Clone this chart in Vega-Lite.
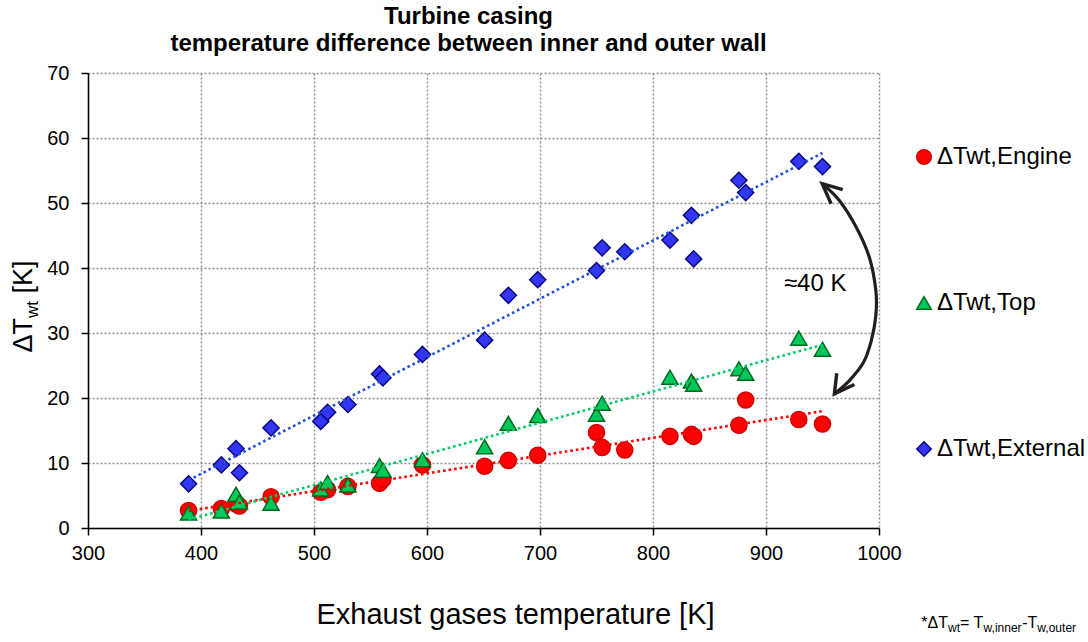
{
  "$schema": "https://vega.github.io/schema/vega-lite/v6.json",
  "width": 791,
  "height": 455,
  "autosize": {"type": "none"},
  "padding": {"left": 88, "top": 73, "right": 209, "bottom": 114},
  "background": "white",
  "config": {
    "view": {"stroke": null},
    "font": "Liberation Sans",
    "axis": {
      "grid": true,
      "gridColor": "#8f8f8f",
      "gridDash": [2, 2],
      "gridWidth": 1.5,
      "domainColor": "#000000",
      "domainWidth": 1.5,
      "tickColor": "#000000",
      "tickWidth": 1.5,
      "tickSize": 7,
      "labelFont": "Liberation Sans",
      "labelFontSize": 20,
      "labelColor": "#000000",
      "labelFlush": false,
      "labelOverlap": false,
      "titleFont": "Liberation Sans",
      "titleColor": "#000000",
      "titleFontWeight": "normal"
    }
  },
  "title": {
    "text": ["Turbine casing", "temperature difference between inner and outer wall"],
    "font": "Liberation Sans",
    "fontSize": 24,
    "fontWeight": "bold",
    "color": "#000000",
    "lineHeight": 27,
    "anchor": "middle",
    "frame": "group",
    "dx": -15,
    "offset": 7
  },
  "data": {
    "values": [
      {"T": 389, "series": "ΔTwt,Engine", "dT": 2.7},
      {"T": 418, "series": "ΔTwt,Engine", "dT": 3.0},
      {"T": 431, "series": "ΔTwt,Engine", "dT": 3.7},
      {"T": 434, "series": "ΔTwt,Engine", "dT": 3.4},
      {"T": 462, "series": "ΔTwt,Engine", "dT": 4.8},
      {"T": 506, "series": "ΔTwt,Engine", "dT": 5.5},
      {"T": 512, "series": "ΔTwt,Engine", "dT": 5.9},
      {"T": 530, "series": "ΔTwt,Engine", "dT": 6.4},
      {"T": 558, "series": "ΔTwt,Engine", "dT": 6.9},
      {"T": 561, "series": "ΔTwt,Engine", "dT": 7.5},
      {"T": 596, "series": "ΔTwt,Engine", "dT": 9.7},
      {"T": 651, "series": "ΔTwt,Engine", "dT": 9.5},
      {"T": 672, "series": "ΔTwt,Engine", "dT": 10.4},
      {"T": 698, "series": "ΔTwt,Engine", "dT": 11.2},
      {"T": 750, "series": "ΔTwt,Engine", "dT": 14.7},
      {"T": 755, "series": "ΔTwt,Engine", "dT": 12.4},
      {"T": 775, "series": "ΔTwt,Engine", "dT": 12.0},
      {"T": 815, "series": "ΔTwt,Engine", "dT": 14.1},
      {"T": 834, "series": "ΔTwt,Engine", "dT": 14.4},
      {"T": 836, "series": "ΔTwt,Engine", "dT": 14.1},
      {"T": 876, "series": "ΔTwt,Engine", "dT": 15.8},
      {"T": 882, "series": "ΔTwt,Engine", "dT": 19.7},
      {"T": 929, "series": "ΔTwt,Engine", "dT": 16.7},
      {"T": 950, "series": "ΔTwt,Engine", "dT": 16.0},
      {"T": 389, "series": "ΔTwt,Top", "dT": 2.3},
      {"T": 418, "series": "ΔTwt,Top", "dT": 2.6},
      {"T": 431, "series": "ΔTwt,Top", "dT": 5.2},
      {"T": 434, "series": "ΔTwt,Top", "dT": 4.0},
      {"T": 462, "series": "ΔTwt,Top", "dT": 3.8},
      {"T": 506, "series": "ΔTwt,Top", "dT": 6.0},
      {"T": 512, "series": "ΔTwt,Top", "dT": 7.0},
      {"T": 530, "series": "ΔTwt,Top", "dT": 6.6},
      {"T": 558, "series": "ΔTwt,Top", "dT": 9.6},
      {"T": 561, "series": "ΔTwt,Top", "dT": 8.9},
      {"T": 596, "series": "ΔTwt,Top", "dT": 10.5},
      {"T": 651, "series": "ΔTwt,Top", "dT": 12.5},
      {"T": 672, "series": "ΔTwt,Top", "dT": 16.1},
      {"T": 698, "series": "ΔTwt,Top", "dT": 17.3},
      {"T": 750, "series": "ΔTwt,Top", "dT": 17.5},
      {"T": 755, "series": "ΔTwt,Top", "dT": 19.2},
      {"T": 815, "series": "ΔTwt,Top", "dT": 23.2},
      {"T": 834, "series": "ΔTwt,Top", "dT": 22.6},
      {"T": 836, "series": "ΔTwt,Top", "dT": 22.1},
      {"T": 876, "series": "ΔTwt,Top", "dT": 24.5},
      {"T": 882, "series": "ΔTwt,Top", "dT": 23.8},
      {"T": 929, "series": "ΔTwt,Top", "dT": 29.2},
      {"T": 950, "series": "ΔTwt,Top", "dT": 27.5},
      {"T": 389, "series": "ΔTwt,External", "dT": 6.8},
      {"T": 418, "series": "ΔTwt,External", "dT": 9.7},
      {"T": 431, "series": "ΔTwt,External", "dT": 12.2},
      {"T": 434, "series": "ΔTwt,External", "dT": 8.5},
      {"T": 462, "series": "ΔTwt,External", "dT": 15.4},
      {"T": 506, "series": "ΔTwt,External", "dT": 16.4},
      {"T": 512, "series": "ΔTwt,External", "dT": 17.8},
      {"T": 530, "series": "ΔTwt,External", "dT": 19.0},
      {"T": 558, "series": "ΔTwt,External", "dT": 23.7},
      {"T": 561, "series": "ΔTwt,External", "dT": 23.1},
      {"T": 596, "series": "ΔTwt,External", "dT": 26.7},
      {"T": 651, "series": "ΔTwt,External", "dT": 28.9},
      {"T": 672, "series": "ΔTwt,External", "dT": 35.8},
      {"T": 698, "series": "ΔTwt,External", "dT": 38.2},
      {"T": 750, "series": "ΔTwt,External", "dT": 39.6},
      {"T": 755, "series": "ΔTwt,External", "dT": 43.1},
      {"T": 775, "series": "ΔTwt,External", "dT": 42.5},
      {"T": 815, "series": "ΔTwt,External", "dT": 44.3},
      {"T": 834, "series": "ΔTwt,External", "dT": 48.1},
      {"T": 836, "series": "ΔTwt,External", "dT": 41.4},
      {"T": 876, "series": "ΔTwt,External", "dT": 53.5},
      {"T": 882, "series": "ΔTwt,External", "dT": 51.6},
      {"T": 929, "series": "ΔTwt,External", "dT": 56.4},
      {"T": 950, "series": "ΔTwt,External", "dT": 55.6}
    ]
  },
  "layer": [
    {
      "mark": {"type": "point", "filled": true, "size": 260, "strokeWidth": 1.5, "opacity": 1},
      "encoding": {
        "x": {
          "field": "T",
          "type": "quantitative",
          "scale": {"domain": [300, 1000], "nice": false, "zero": false},
          "axis": {
            "values": [300, 400, 500, 600, 700, 800, 900, 1000],
            "format": "d",
            "title": "Exhaust gases temperature [K]",
            "titleFontSize": 29,
            "titleX": 427,
            "titleY": 95,
            "titleBaseline": "alphabetic",
            "titleAnchor": "middle",
            "labelPadding": 8
          }
        },
        "y": {
          "field": "dT",
          "type": "quantitative",
          "scale": {"domain": [0, 70], "nice": false},
          "axis": {
            "values": [0, 10, 20, 30, 40, 50, 60, 70],
            "format": "d",
            "title": null,
            "labelPadding": 12
          }
        },
        "shape": {
          "field": "series",
          "type": "nominal",
          "scale": {
            "domain": ["ΔTwt,Engine", "ΔTwt,Top", "ΔTwt,External"],
            "range": ["circle", "triangle-up", "diamond"]
          },
          "legend": {
            "title": null, "orient": "none", "legendX": 824, "legendY": 72, "padding": 0,
            "labelFont": "Liberation Sans", "labelFontSize": 24, "labelColor": "#000000",
            "labelOffset": 1, "symbolSize": 210, "symbolStrokeWidth": 1.5, "rowPadding": 122
          }
        },
        "fill": {
          "field": "series",
          "type": "nominal",
          "scale": {
            "domain": ["ΔTwt,Engine", "ΔTwt,Top", "ΔTwt,External"],
            "range": ["#ff0000", "#00c85a", "#3434f5"]
          },
          "legend": {
            "title": null, "orient": "none", "legendX": 824, "legendY": 72, "padding": 0,
            "labelFont": "Liberation Sans", "labelFontSize": 24, "labelColor": "#000000",
            "labelOffset": 1, "symbolSize": 210, "symbolStrokeWidth": 1.5, "rowPadding": 122
          }
        },
        "stroke": {
          "field": "series",
          "type": "nominal",
          "scale": {
            "domain": ["ΔTwt,Engine", "ΔTwt,Top", "ΔTwt,External"],
            "range": ["#d40000", "#006a1e", "#0a0a80"]
          },
          "legend": {
            "title": null, "orient": "none", "legendX": 824, "legendY": 72, "padding": 0,
            "labelFont": "Liberation Sans", "labelFontSize": 24, "labelColor": "#000000",
            "labelOffset": 1, "symbolSize": 210, "symbolStrokeWidth": 1.5, "rowPadding": 122
          }
        }
      }
    },
    {
      "transform": [
        {"filter": "datum.series === 'ΔTwt,Engine'"},
        {"regression": "dT", "on": "T"}
      ],
      "mark": {"type": "line", "color": "#ff0000", "strokeWidth": 2.6, "strokeDash": [2.6, 3]},
      "encoding": {
        "x": {"field": "T", "type": "quantitative"},
        "y": {"field": "dT", "type": "quantitative"}
      }
    },
    {
      "transform": [
        {"filter": "datum.series === 'ΔTwt,Top'"},
        {"regression": "dT", "on": "T"}
      ],
      "mark": {"type": "line", "color": "#00cc66", "strokeWidth": 2.6, "strokeDash": [2.6, 3]},
      "encoding": {
        "x": {"field": "T", "type": "quantitative"},
        "y": {"field": "dT", "type": "quantitative"}
      }
    },
    {
      "transform": [
        {"filter": "datum.series === 'ΔTwt,External'"},
        {"regression": "dT", "on": "T"}
      ],
      "mark": {"type": "line", "color": "#1f4fe0", "strokeWidth": 2.6, "strokeDash": [2.6, 3]},
      "encoding": {
        "x": {"field": "T", "type": "quantitative"},
        "y": {"field": "dT", "type": "quantitative"}
      }
    },
    {
      "data": {
        "values": [
          {"ax": 949.7, "ay": 52.97, "o": 0},
          {"ax": 964.9, "ay": 50.40, "o": 1},
          {"ax": 980.0, "ay": 46.24, "o": 2},
          {"ax": 991.5, "ay": 41.62, "o": 3},
          {"ax": 997.2, "ay": 36.54, "o": 4},
          {"ax": 997.2, "ay": 32.69, "o": 5},
          {"ax": 993.2, "ay": 28.84, "o": 6},
          {"ax": 986.2, "ay": 25.45, "o": 7},
          {"ax": 973.8, "ay": 22.68, "o": 8},
          {"ax": 960.5, "ay": 20.63, "o": 9}
        ]
      },
      "mark": {"type": "line", "color": "#231f20", "strokeWidth": 3.2, "interpolate": "cardinal", "clip": false},
      "encoding": {
        "x": {"field": "ax", "type": "quantitative"},
        "y": {"field": "ay", "type": "quantitative"},
        "order": {"field": "o"}
      }
    },
    {
      "data": {
        "values": [
          {"ax": 967.9, "ay": 52.05, "o": 0, "head": "top"},
          {"ax": 949.7, "ay": 52.97, "o": 1, "head": "top"},
          {"ax": 957.6, "ay": 49.89, "o": 2, "head": "top"},
          {"ax": 962.6, "ay": 23.81, "o": 0, "head": "bottom"},
          {"ax": 960.5, "ay": 20.63, "o": 1, "head": "bottom"},
          {"ax": 978.2, "ay": 22.07, "o": 2, "head": "bottom"}
        ]
      },
      "mark": {"type": "line", "color": "#231f20", "strokeWidth": 3.4, "strokeJoin": "miter", "strokeCap": "butt", "clip": false},
      "encoding": {
        "x": {"field": "ax", "type": "quantitative"},
        "y": {"field": "ay", "type": "quantitative"},
        "detail": {"field": "head"},
        "order": {"field": "o"}
      }
    },
    {
      "data": {"values": [{}]},
      "mark": {"type": "text", "text": "≈40 K", "font": "Liberation Sans", "fontSize": 24, "align": "center", "baseline": "alphabetic", "color": "#000000"},
      "encoding": {
        "x": {"datum": 943.5, "type": "quantitative"},
        "y": {"datum": 36.4, "type": "quantitative"}
      }
    },
    {
      "data": {"values": [{}]},
      "mark": {"type": "text", "text": "ΔT", "font": "Liberation Sans", "fontSize": 27, "angle": 270, "align": "left", "baseline": "alphabetic", "color": "#000000"},
      "encoding": {
        "x": {"datum": 250.2, "type": "quantitative"},
        "y": {"datum": 27.0, "type": "quantitative"}
      }
    },
    {
      "data": {"values": [{}]},
      "mark": {"type": "text", "text": "wt", "font": "Liberation Sans", "fontSize": 17, "angle": 270, "align": "left", "baseline": "alphabetic", "dx": 34.5, "dy": 6, "color": "#000000"},
      "encoding": {
        "x": {"datum": 250.2, "type": "quantitative"},
        "y": {"datum": 27.0, "type": "quantitative"}
      }
    },
    {
      "data": {"values": [{}]},
      "mark": {"type": "text", "text": "[K]", "font": "Liberation Sans", "fontSize": 27, "angle": 270, "align": "left", "baseline": "alphabetic", "dx": 59, "color": "#000000"},
      "encoding": {
        "x": {"datum": 250.2, "type": "quantitative"},
        "y": {"datum": 27.0, "type": "quantitative"}
      }
    },
    {
      "data": {"values": [{}]},
      "mark": {"type": "text", "text": "*ΔT", "font": "Liberation Sans", "fontSize": 16, "align": "left", "baseline": "alphabetic", "color": "#000000"},
      "encoding": {
        "x": {"datum": 1037.4, "type": "quantitative"},
        "y": {"datum": -15.35, "type": "quantitative"}
      }
    },
    {
      "data": {"values": [{}]},
      "mark": {"type": "text", "text": "wt", "font": "Liberation Sans", "fontSize": 12, "align": "left", "baseline": "alphabetic", "dx": 26.7, "dy": 4, "color": "#000000"},
      "encoding": {
        "x": {"datum": 1037.4, "type": "quantitative"},
        "y": {"datum": -15.35, "type": "quantitative"}
      }
    },
    {
      "data": {"values": [{}]},
      "mark": {"type": "text", "text": "= T", "font": "Liberation Sans", "fontSize": 16, "align": "left", "baseline": "alphabetic", "dx": 38.7, "color": "#000000"},
      "encoding": {
        "x": {"datum": 1037.4, "type": "quantitative"},
        "y": {"datum": -15.35, "type": "quantitative"}
      }
    },
    {
      "data": {"values": [{}]},
      "mark": {"type": "text", "text": "w,inner", "font": "Liberation Sans", "fontSize": 12, "align": "left", "baseline": "alphabetic", "dx": 62.3, "dy": 4, "color": "#000000"},
      "encoding": {
        "x": {"datum": 1037.4, "type": "quantitative"},
        "y": {"datum": -15.35, "type": "quantitative"}
      }
    },
    {
      "data": {"values": [{}]},
      "mark": {"type": "text", "text": "-T", "font": "Liberation Sans", "fontSize": 16, "align": "left", "baseline": "alphabetic", "dx": 101, "color": "#000000"},
      "encoding": {
        "x": {"datum": 1037.4, "type": "quantitative"},
        "y": {"datum": -15.35, "type": "quantitative"}
      }
    },
    {
      "data": {"values": [{}]},
      "mark": {"type": "text", "text": "w,outer", "font": "Liberation Sans", "fontSize": 12, "align": "left", "baseline": "alphabetic", "dx": 116.1, "dy": 4, "color": "#000000"},
      "encoding": {
        "x": {"datum": 1037.4, "type": "quantitative"},
        "y": {"datum": -15.35, "type": "quantitative"}
      }
    }
  ]
}
